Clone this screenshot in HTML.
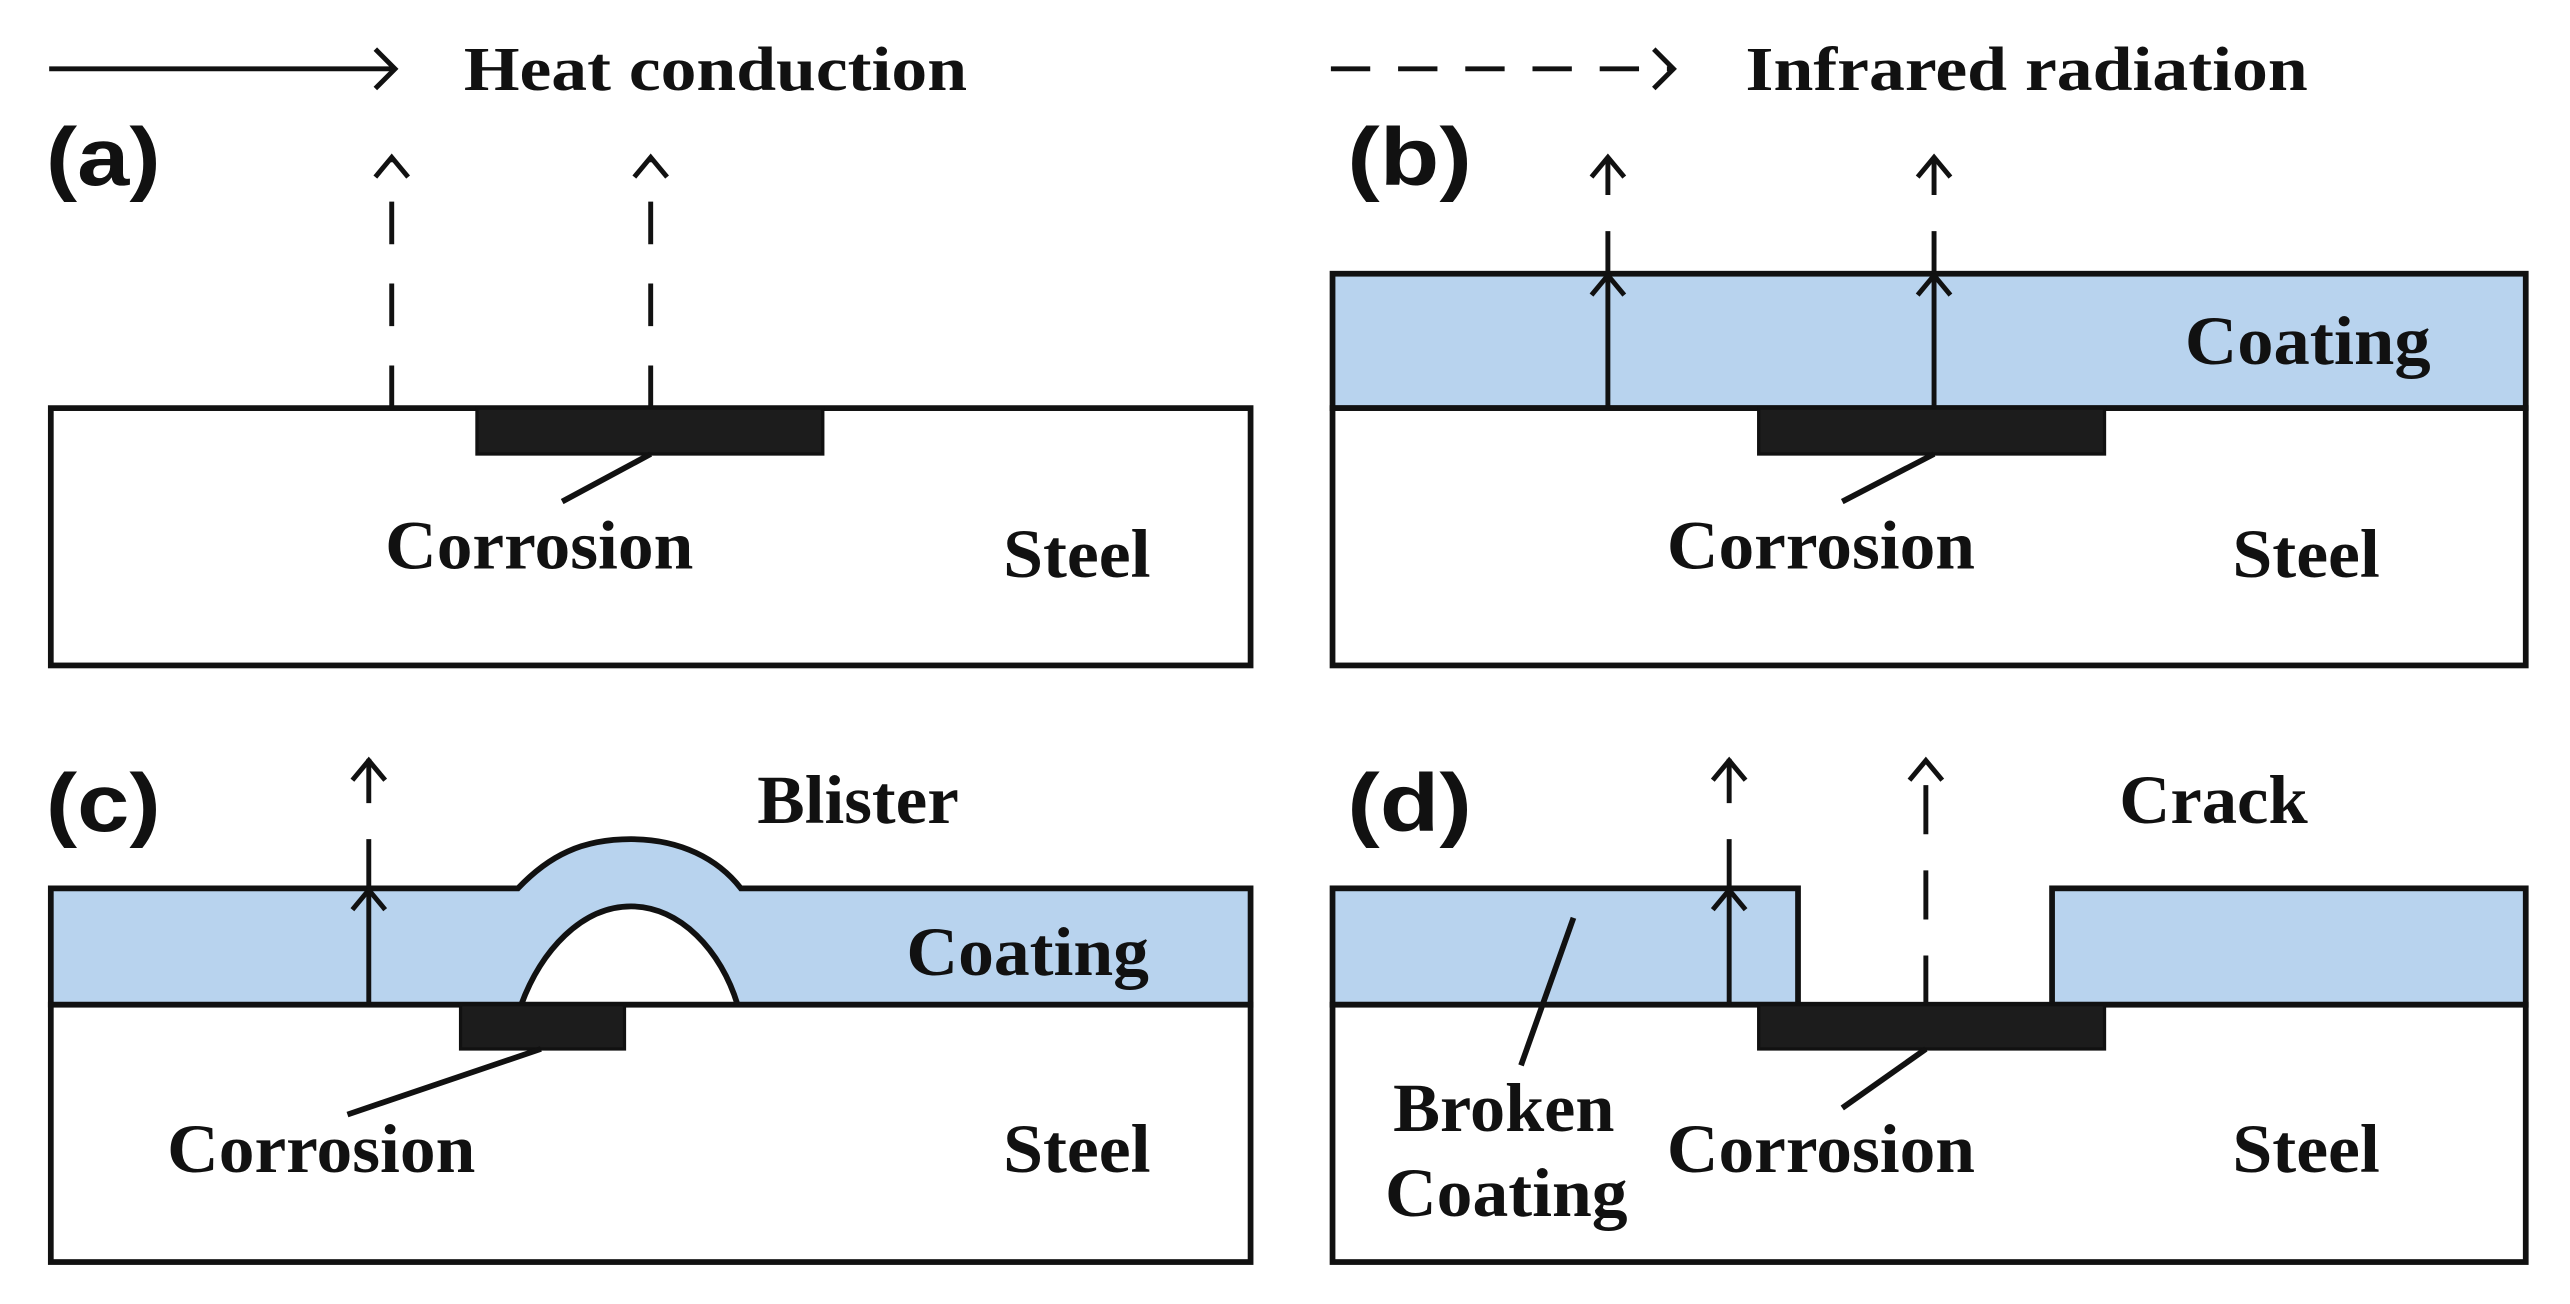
<!DOCTYPE html>
<html><head><meta charset="utf-8"><style>
html,body{margin:0;padding:0;background:#fff}
svg{display:block}
.t{font-family:"Liberation Serif",serif;font-weight:bold;fill:#111}
.l{font-family:"Liberation Sans",sans-serif;font-weight:bold;fill:#111}
</style></head><body>
<svg width="2570" height="1304" viewBox="0 0 1568 795.6" preserveAspectRatio="none" xmlns="http://www.w3.org/2000/svg">
<g fill="none" stroke="#111" stroke-width="3">
<!-- legend -->
<line x1="30" y1="42" x2="240" y2="42"/>
<polyline points="229,30 241,42 229,54"/>
<line x1="812" y1="42" x2="1020" y2="42" stroke-dasharray="24,17"/>
<polyline points="1009,30 1021,42 1009,54"/>
</g>
<text class="t" x="283" y="55" font-size="38" textLength="307" lengthAdjust="spacingAndGlyphs">Heat conduction</text>
<text class="t" x="1065" y="55" font-size="38" textLength="343" lengthAdjust="spacingAndGlyphs">Infrared radiation</text>

<!-- panel a -->
<text class="l" x="28" y="113" font-size="50" textLength="70" lengthAdjust="spacingAndGlyphs">(a)</text>
<rect x="31" y="249" width="732" height="157" fill="#fff" stroke="#111" stroke-width="3.5"/>
<rect x="291" y="249" width="211" height="28" fill="#1c1c1c" stroke="#111" stroke-width="2"/>
<g fill="none" stroke="#111" stroke-width="3">
<line x1="239" y1="249" x2="239" y2="98" stroke-dasharray="26,24"/>
<polyline points="229,108 239,96 249,108"/>
<line x1="397" y1="249" x2="397" y2="98" stroke-dasharray="26,24"/>
<polyline points="387,108 397,96 407,108"/>
<line x1="397" y1="277" x2="343" y2="306" stroke-width="3.5"/>
</g>
<text class="t" x="235" y="347" font-size="42" textLength="188" lengthAdjust="spacingAndGlyphs">Corrosion</text>
<text class="t" x="612" y="352" font-size="42" textLength="90" lengthAdjust="spacingAndGlyphs">Steel</text>

<!-- panel b -->
<text class="l" x="822" y="113" font-size="50" textLength="76" lengthAdjust="spacingAndGlyphs">(b)</text>
<rect x="813" y="167" width="728" height="82" fill="#b8d3ee" stroke="#111" stroke-width="3.5"/>
<rect x="813" y="249" width="728" height="157" fill="#fff" stroke="#111" stroke-width="3.5"/>
<rect x="1073" y="249" width="211" height="28" fill="#1c1c1c" stroke="#111" stroke-width="2"/>
<g fill="none" stroke="#111" stroke-width="3">
<line x1="981" y1="249" x2="981" y2="167"/>
<polyline points="971,180 981,168 991,180"/>
<line x1="981" y1="167" x2="981" y2="98" stroke-dasharray="26,22"/>
<polyline points="971,108 981,96 991,108"/>
<line x1="1180" y1="249" x2="1180" y2="167"/>
<polyline points="1170,180 1180,168 1190,180"/>
<line x1="1180" y1="167" x2="1180" y2="98" stroke-dasharray="26,22"/>
<polyline points="1170,108 1180,96 1190,108"/>
<line x1="1180" y1="277" x2="1124" y2="306" stroke-width="3.5"/>
</g>
<text class="t" x="1333" y="222" font-size="42" textLength="150" lengthAdjust="spacingAndGlyphs">Coating</text>
<text class="t" x="1017" y="347" font-size="42" textLength="188" lengthAdjust="spacingAndGlyphs">Corrosion</text>
<text class="t" x="1362" y="352" font-size="42" textLength="90" lengthAdjust="spacingAndGlyphs">Steel</text>

<!-- panel c -->
<text class="l" x="28" y="507" font-size="50" textLength="70" lengthAdjust="spacingAndGlyphs">(c)</text>
<path d="M31,542 L316,542 C335,522 355,512 385,512 C415,512 438,524 452,542 L763,542 L763,613 L31,613 Z" fill="#b8d3ee" stroke="#111" stroke-width="3.5"/>
<path d="M318,613 C330,580 355,553 385,553 C415,553 440,580 450,613 Z" fill="#fff" stroke="#111" stroke-width="3.5"/>
<rect x="31" y="613" width="732" height="157" fill="#fff" stroke="#111" stroke-width="3.5"/>
<rect x="281" y="613" width="100" height="27" fill="#1c1c1c" stroke="#111" stroke-width="2"/>
<g fill="none" stroke="#111" stroke-width="3">
<line x1="225" y1="613" x2="225" y2="542"/>
<polyline points="215,555 225,543 235,555"/>
<line x1="225" y1="542" x2="225" y2="463" stroke-dasharray="30,22"/>
<polyline points="215,476 225,464 235,476"/>
<line x1="330" y1="640" x2="212" y2="680" stroke-width="3.5"/>
</g>
<text class="t" x="462" y="502" font-size="42" textLength="123" lengthAdjust="spacingAndGlyphs">Blister</text>
<text class="t" x="553" y="595" font-size="42" textLength="148" lengthAdjust="spacingAndGlyphs">Coating</text>
<text class="t" x="102" y="715" font-size="42" textLength="188" lengthAdjust="spacingAndGlyphs">Corrosion</text>
<text class="t" x="612" y="715" font-size="42" textLength="90" lengthAdjust="spacingAndGlyphs">Steel</text>

<!-- panel d -->
<text class="l" x="822" y="507" font-size="50" textLength="76" lengthAdjust="spacingAndGlyphs">(d)</text>
<rect x="813" y="542" width="284" height="71" fill="#b8d3ee" stroke="#111" stroke-width="3.5"/>
<rect x="1252" y="542" width="289" height="71" fill="#b8d3ee" stroke="#111" stroke-width="3.5"/>
<rect x="813" y="613" width="728" height="157" fill="#fff" stroke="#111" stroke-width="3.5"/>
<rect x="1073" y="613" width="211" height="27" fill="#1c1c1c" stroke="#111" stroke-width="2"/>
<g fill="none" stroke="#111" stroke-width="3">
<line x1="1055" y1="613" x2="1055" y2="542"/>
<polyline points="1045,555 1055,543 1065,555"/>
<line x1="1055" y1="542" x2="1055" y2="463" stroke-dasharray="30,22"/>
<polyline points="1045,476 1055,464 1065,476"/>
<line x1="1175" y1="613" x2="1175" y2="463" stroke-dasharray="30,22"/>
<polyline points="1165,476 1175,464 1185,476"/>
<line x1="960" y1="560" x2="928" y2="650" stroke-width="3.5"/>
<line x1="1175" y1="640" x2="1124" y2="676" stroke-width="3.5"/>
</g>
<text class="t" x="1293" y="502" font-size="42" textLength="115" lengthAdjust="spacingAndGlyphs">Crack</text>
<text class="t" x="850" y="690" font-size="42" textLength="135" lengthAdjust="spacingAndGlyphs">Broken</text>
<text class="t" x="845" y="742" font-size="42" textLength="148" lengthAdjust="spacingAndGlyphs">Coating</text>
<text class="t" x="1017" y="715" font-size="42" textLength="188" lengthAdjust="spacingAndGlyphs">Corrosion</text>
<text class="t" x="1362" y="715" font-size="42" textLength="90" lengthAdjust="spacingAndGlyphs">Steel</text>
</svg>
</body></html>
